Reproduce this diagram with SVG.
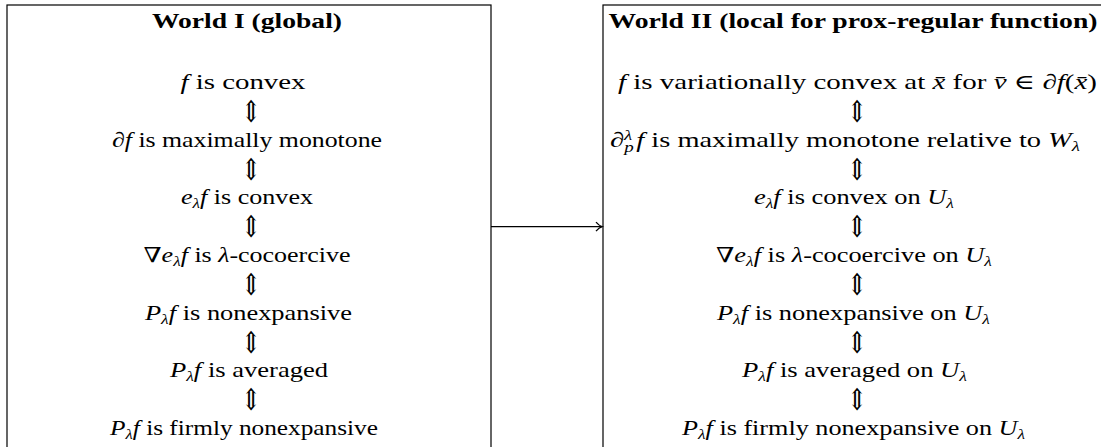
<svg xmlns="http://www.w3.org/2000/svg" width="1101" height="447" viewBox="0 0 1101 447">
<style>
.box{fill:#fff;stroke:#000;stroke-width:1.2}
.t{font-family:"Liberation Serif","DejaVu Serif",serif;font-size:21px;text-anchor:middle;fill:#000}
.h{font-weight:bold;font-size:21px}
.i{font-style:italic}
.s{font-style:italic;font-size:14px}
.a{font-family:"DejaVu Serif",serif;font-size:30px;text-anchor:middle;fill:#000}
.c{stroke:#000;stroke-width:1.3;fill:none}
</style>
<defs>
<marker id="to" markerWidth="10" markerHeight="12" refX="8" refY="6" orient="auto" markerUnits="userSpaceOnUse">
<path d="M2,1.5 Q5,5 8,6 Q5,7 2,10.5" fill="none" stroke="#000" stroke-width="1.3"/>
</marker>
<text id="ud" class="a" x="0" y="0">⇕</text>
</defs>
<g id="world1">
<rect class="box" x="7" y="5" width="484" height="470"/>
<text class="t h" x="247" y="28" textLength="190" lengthAdjust="spacingAndGlyphs">World I (global)</text>
<text class="t" x="243" y="89" textLength="125" lengthAdjust="spacingAndGlyphs"><tspan class="i">f</tspan> is convex</text>
<use href="#ud" transform="translate(251,122) scale(0.8,1)"/>
<text class="t" x="247" y="147" textLength="270" lengthAdjust="spacingAndGlyphs">∂<tspan class="i">f</tspan> is maximally monotone</text>
<use href="#ud" transform="translate(251,180) scale(0.8,1)"/>
<text class="t" x="247" y="204" textLength="132" lengthAdjust="spacingAndGlyphs"><tspan class="i">e</tspan><tspan class="s" dy="4">λ</tspan><tspan class="i" dy="-4">f</tspan> is convex</text>
<use href="#ud" transform="translate(251,237) scale(0.8,1)"/>
<text class="t" x="247" y="262" textLength="207" lengthAdjust="spacingAndGlyphs">∇<tspan class="i">e</tspan><tspan class="s" dy="4">λ</tspan><tspan class="i" dy="-4">f</tspan> is <tspan class="i">λ</tspan>-cocoercive</text>
<use href="#ud" transform="translate(251,295) scale(0.8,1)"/>
<text class="t" x="248.5" y="320" textLength="207" lengthAdjust="spacingAndGlyphs"><tspan class="i">P</tspan><tspan class="s" dy="4">λ</tspan><tspan class="i" dy="-4">f</tspan> is nonexpansive</text>
<use href="#ud" transform="translate(251,353) scale(0.8,1)"/>
<text class="t" x="249" y="377" textLength="158" lengthAdjust="spacingAndGlyphs"><tspan class="i">P</tspan><tspan class="s" dy="4">λ</tspan><tspan class="i" dy="-4">f</tspan> is averaged</text>
<use href="#ud" transform="translate(251,410) scale(0.8,1)"/>
<text class="t" x="244" y="435" textLength="268" lengthAdjust="spacingAndGlyphs"><tspan class="i">P</tspan><tspan class="s" dy="4">λ</tspan><tspan class="i" dy="-4">f</tspan> is firmly nonexpansive</text>
</g>
<g id="world2">
<rect class="box" x="603" y="5" width="520" height="470"/>
<text class="t h" x="853" y="28" textLength="489" lengthAdjust="spacingAndGlyphs">World II (local for prox-regular function)</text>
<text class="t" x="857.5" y="89" textLength="479" lengthAdjust="spacingAndGlyphs"><tspan class="i">f</tspan> is variationally convex at <tspan class="i">x̄</tspan> for <tspan class="i">v̄</tspan> ∈ ∂<tspan class="i">f</tspan>(<tspan class="i">x̄</tspan>)</text>
<use href="#ud" transform="translate(857,122) scale(0.8,1)"/>
<text class="t" x="845" y="147" textLength="470" lengthAdjust="spacingAndGlyphs">∂<tspan class="s" dy="-7">λ</tspan><tspan class="s" dx="-6" dy="12">p</tspan><tspan class="i" dx="2" dy="-5">f</tspan> is maximally monotone relative to <tspan class="i">W</tspan><tspan class="s" dy="4">λ</tspan></text>
<use href="#ud" transform="translate(857,180) scale(0.8,1)"/>
<text class="t" x="854" y="204" textLength="200" lengthAdjust="spacingAndGlyphs"><tspan class="i">e</tspan><tspan class="s" dy="4">λ</tspan><tspan class="i" dy="-4">f</tspan> is convex on <tspan class="i">U</tspan><tspan class="s" dy="4">λ</tspan></text>
<use href="#ud" transform="translate(857,237) scale(0.8,1)"/>
<text class="t" x="854" y="262" textLength="276" lengthAdjust="spacingAndGlyphs">∇<tspan class="i">e</tspan><tspan class="s" dy="4">λ</tspan><tspan class="i" dy="-4">f</tspan> is <tspan class="i">λ</tspan>-cocoercive on <tspan class="i">U</tspan><tspan class="s" dy="4">λ</tspan></text>
<use href="#ud" transform="translate(857,295) scale(0.8,1)"/>
<text class="t" x="853.5" y="320" textLength="273" lengthAdjust="spacingAndGlyphs"><tspan class="i">P</tspan><tspan class="s" dy="4">λ</tspan><tspan class="i" dy="-4">f</tspan> is nonexpansive on <tspan class="i">U</tspan><tspan class="s" dy="4">λ</tspan></text>
<use href="#ud" transform="translate(857,353) scale(0.8,1)"/>
<text class="t" x="854.5" y="377" textLength="225" lengthAdjust="spacingAndGlyphs"><tspan class="i">P</tspan><tspan class="s" dy="4">λ</tspan><tspan class="i" dy="-4">f</tspan> is averaged on <tspan class="i">U</tspan><tspan class="s" dy="4">λ</tspan></text>
<use href="#ud" transform="translate(857,410) scale(0.8,1)"/>
<text class="t" x="853.5" y="435" textLength="343" lengthAdjust="spacingAndGlyphs"><tspan class="i">P</tspan><tspan class="s" dy="4">λ</tspan><tspan class="i" dy="-4">f</tspan> is firmly nonexpansive on <tspan class="i">U</tspan><tspan class="s" dy="4">λ</tspan></text>
</g>
<g id="connectors">
<line class="c" x1="491" y1="226.7" x2="602" y2="226.7" marker-end="url(#to)"/>
</g>
</svg>
